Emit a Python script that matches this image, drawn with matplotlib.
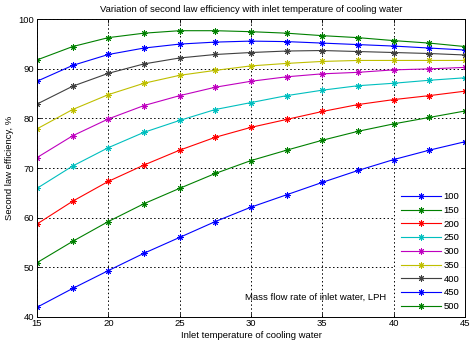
import numpy as np
import matplotlib
matplotlib.use("Agg")
import matplotlib.pyplot as plt

plt.rcParams['font.family'] = ['Liberation Sans', 'DejaVu Sans']

# inlet temperature of cooling water (deg C)
temp = [15, 17.5, 20, 22.5, 25, 27.5, 30, 32.5, 35, 37.5, 40, 42.5, 45]

# second law efficiency (%) for each mass flow rate (LPH)
eff_100 = [41.9, 45.7, 49.3, 52.8, 56.0, 59.2, 62.1, 64.6, 67.1, 69.5, 71.7, 73.6, 75.3]
eff_150 = [50.9, 55.2, 59.2, 62.8, 65.9, 68.9, 71.5, 73.6, 75.6, 77.4, 78.9, 80.2, 81.5]
eff_200 = [58.7, 63.3, 67.3, 70.6, 73.6, 76.2, 78.2, 79.8, 81.4, 82.8, 83.8, 84.6, 85.5]
eff_250 = [65.9, 70.4, 74.1, 77.2, 79.6, 81.8, 83.2, 84.6, 85.7, 86.6, 87.1, 87.7, 88.2]
eff_300 = [72.1, 76.5, 79.9, 82.6, 84.6, 86.3, 87.5, 88.4, 89.0, 89.3, 89.8, 90.0, 90.3]
eff_350 = [77.9, 81.8, 84.8, 87.1, 88.7, 89.7, 90.6, 91.1, 91.5, 91.7, 91.7, 91.7, 91.7]
eff_400 = [82.9, 86.5, 89.1, 91.0, 92.2, 92.9, 93.3, 93.6, 93.7, 93.5, 93.3, 93.1, 92.8]
eff_450 = [87.5, 90.7, 92.9, 94.2, 95.0, 95.4, 95.6, 95.5, 95.2, 94.9, 94.6, 94.2, 93.8]
eff_500 = [91.8, 94.5, 96.3, 97.2, 97.7, 97.7, 97.5, 97.2, 96.7, 96.3, 95.7, 95.2, 94.5]

flow_labels = ['100', '150', '200', '250', '300', '350', '400', '450', '500']
series = [eff_100, eff_150, eff_200, eff_250, eff_300, eff_350, eff_400, eff_450, eff_500]

# classic MATLAB colour order (wraps after 7)
colors = [(0, 0, 1), (0, 0.5, 0), (1, 0, 0), (0, 0.75, 0.75),
          (0.75, 0, 0.75), (0.75, 0.75, 0), (0.25, 0.25, 0.25),
          (0, 0, 1), (0, 0.5, 0)]

fig = plt.figure(figsize=(4.74, 3.47), dpi=100)
ax = fig.add_axes([37 / 474, 1 - 316.7 / 347, 428 / 474, 297.4 / 347])

for y, c, lab in zip(series, colors, flow_labels):
    ax.plot(temp, y, '-', color=c, lw=0.8, marker=(8, 2, 0), ms=4.5, mew=0.7, label=lab)

ax.set_xlim(15, 45)
ax.set_ylim(40, 100)
ax.set_xticks(np.arange(15, 46, 5))
ax.set_yticks(np.arange(40, 101, 10))
ax.grid(True, color='black', linestyle=(0, (1.5, 2.5)), lw=0.7)
ax.tick_params(direction='in', length=3, width=0.6, labelsize=6.8, pad=2,
               top=True, right=True)
for s in ax.spines.values():
    s.set_linewidth(0.7)

ax.set_title('Variation of second law efficiency with inlet temperature of cooling water',
             fontsize=6.8, pad=5)
ax.set_xlabel('Inlet temperature of cooling water', fontsize=6.8, labelpad=2)
ax.set_ylabel('Second law efficiency, %', fontsize=6.8, labelpad=3)

leg = ax.legend(loc='lower right', bbox_to_anchor=(1.0, 0.0), fontsize=6.8,
                frameon=True, fancybox=False,
                handlelength=4.2, handletextpad=0.3, labelspacing=0.5,
                borderaxespad=0.0, borderpad=0.6)
leg.get_frame().set_edgecolor('white')
leg.get_frame().set_linewidth(0)
ax.add_artist(leg)
leg.set_zorder(5)

ax.text(0.65, 0.065, 'Mass flow rate of inlet water, LPH', transform=ax.transAxes,
        fontsize=6.8, ha='center', va='center')

fig.savefig('out.png', dpi=100)
